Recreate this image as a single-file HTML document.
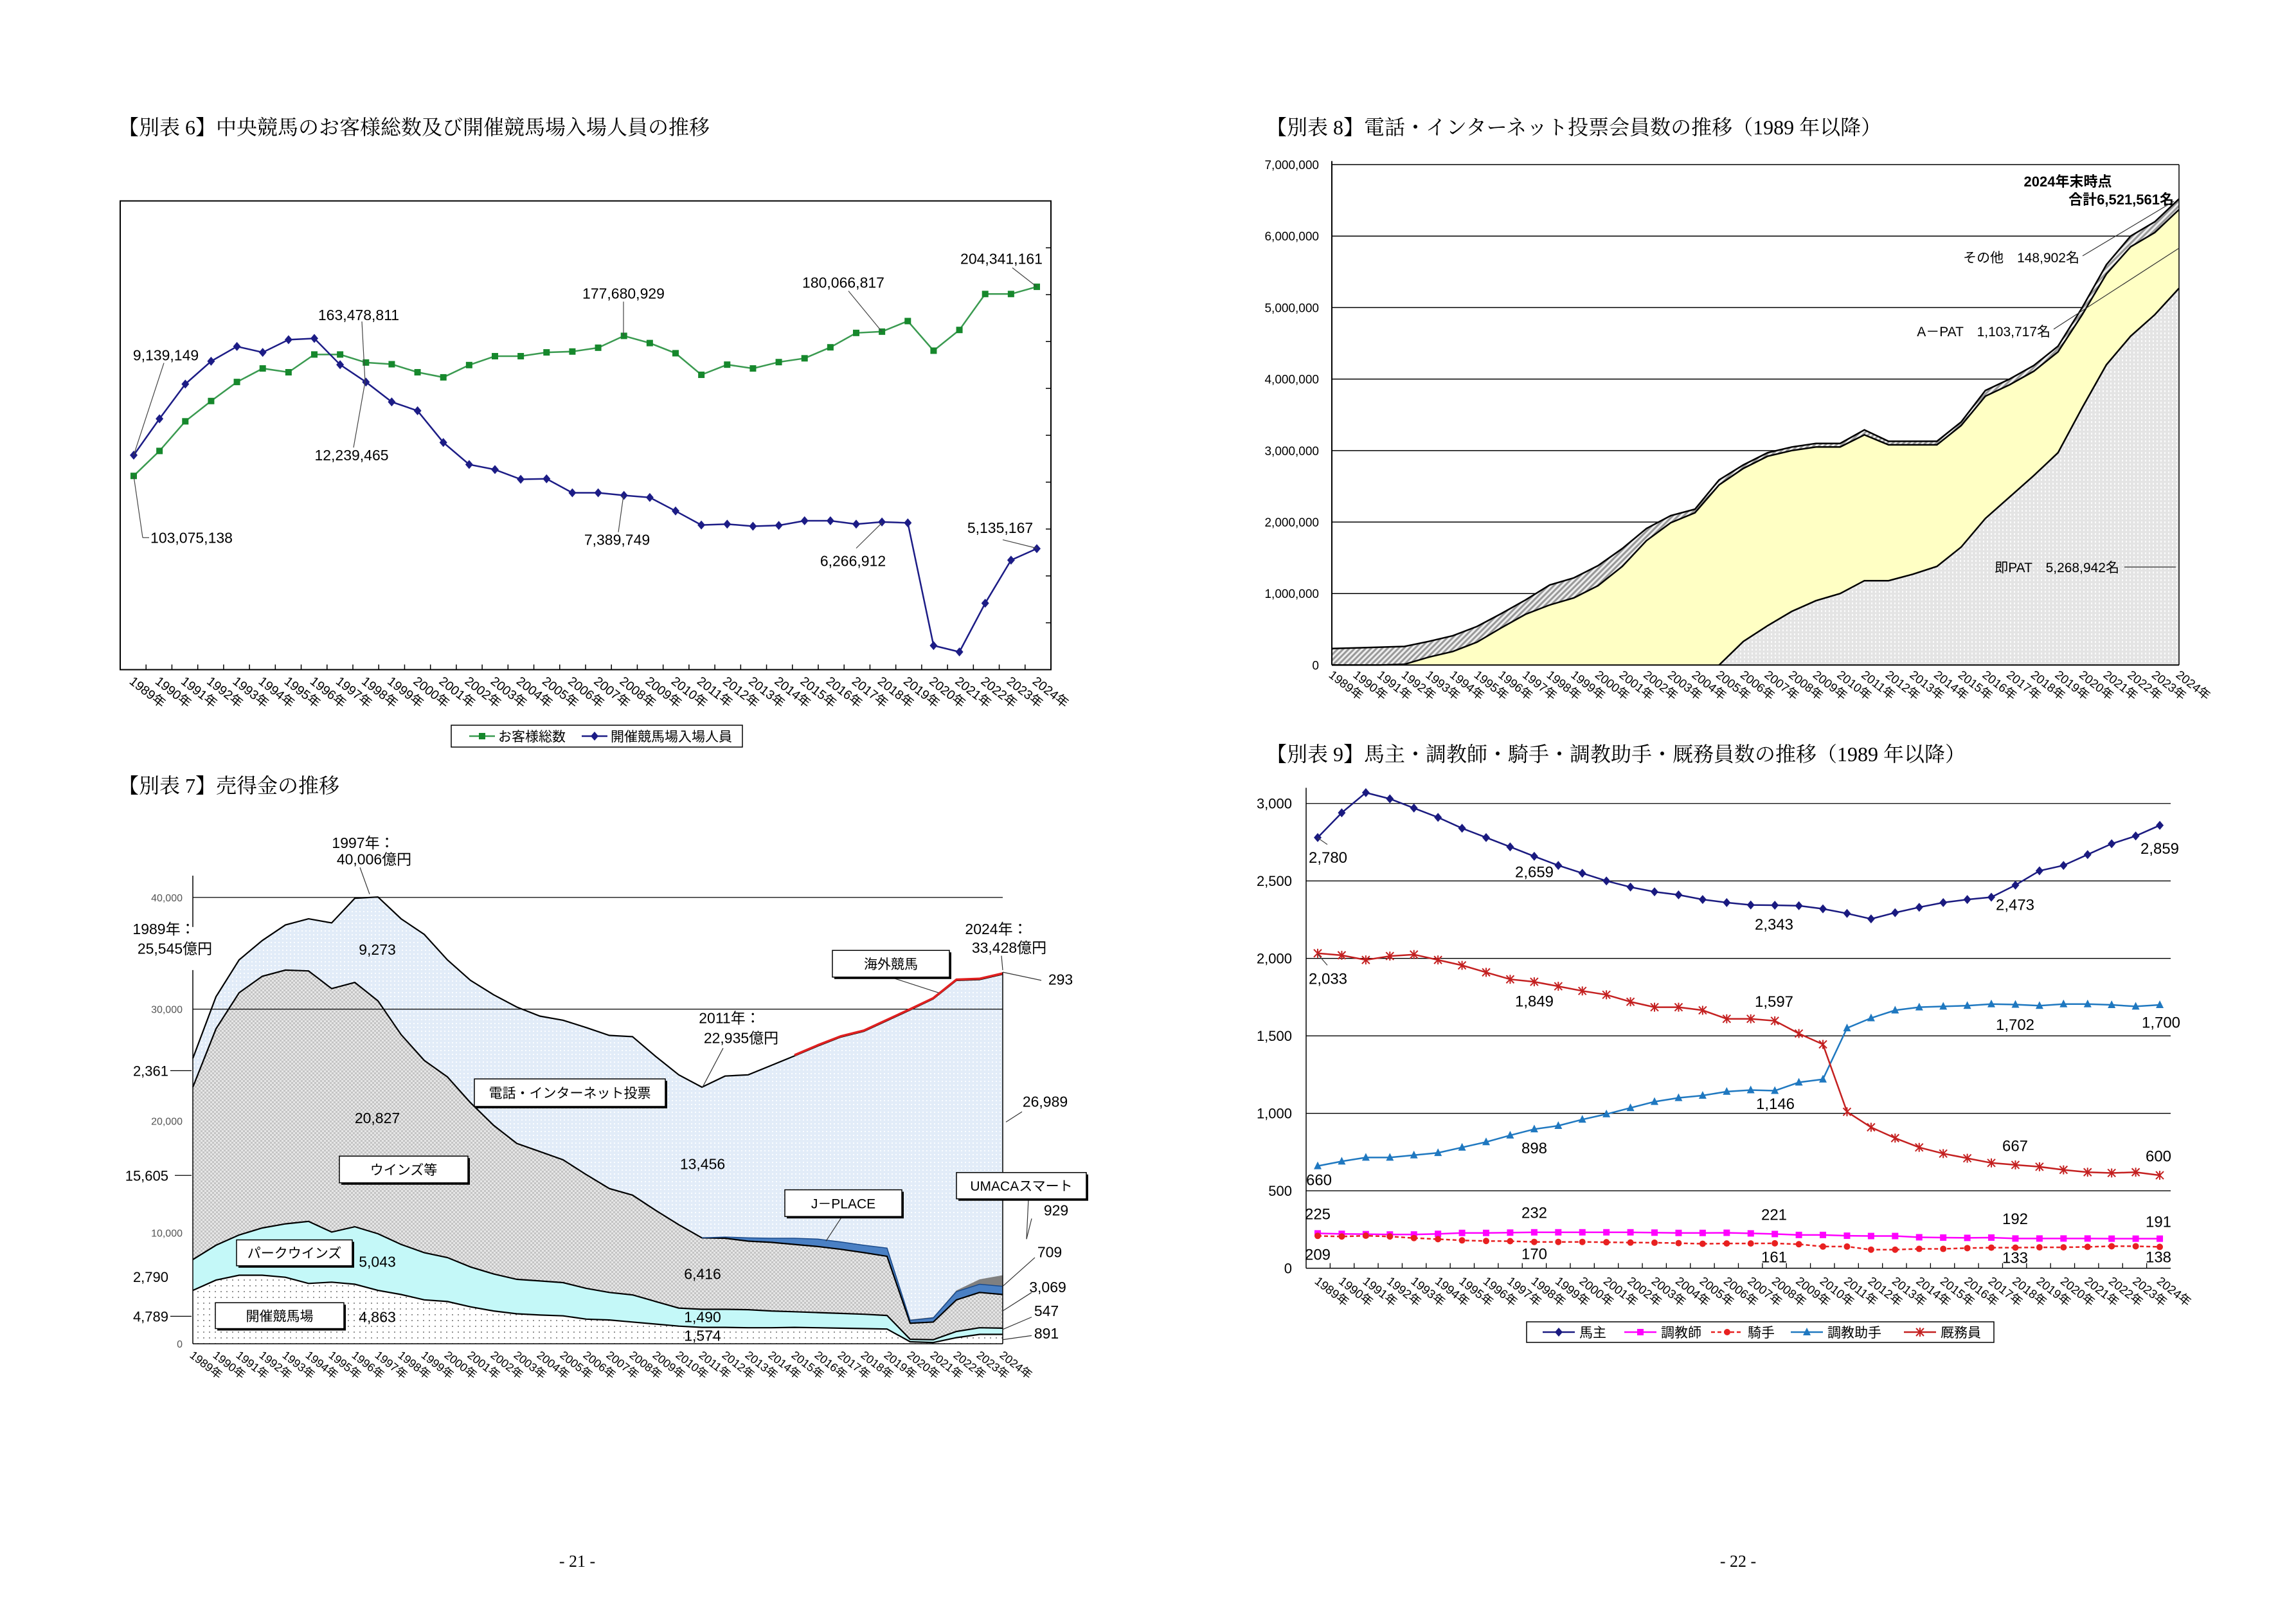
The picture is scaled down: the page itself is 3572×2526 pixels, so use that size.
<!DOCTYPE html>
<html><head><meta charset="utf-8">
<style>
html,body{margin:0;padding:0;background:#fff;}
svg{display:block;}
text{font-family:"Liberation Sans Narrow","Liberation Sans","Noto Sans CJK JP",sans-serif;}
.t{font-family:"Liberation Serif","Noto Serif CJK SC",serif;font-size:32px;}
</style></head>
<body>
<svg id="s" xmlns="http://www.w3.org/2000/svg" width="3572" height="2526" viewBox="0 0 3572 2526">
<defs>
<pattern id="dots" width="9" height="9" patternUnits="userSpaceOnUse"><rect width="9" height="9" fill="#fff"/><circle cx="2" cy="2" r="0.9" fill="#444"/></pattern>
<pattern id="chk" width="6" height="6" patternUnits="userSpaceOnUse"><rect width="6" height="6" fill="#e6e6e6"/><rect width="3" height="3" fill="#c4c4c4"/><rect x="3" y="3" width="3" height="3" fill="#c4c4c4"/></pattern>
<pattern id="lb" width="6" height="6" patternUnits="userSpaceOnUse"><rect width="6" height="6" fill="#e2ecf8"/><rect x="1" y="1" width="2" height="2" fill="#fbfdff"/></pattern>
<pattern id="gr8" width="6" height="6" patternUnits="userSpaceOnUse"><rect width="6" height="6" fill="#e4e4e4"/><rect x="1" y="1" width="2" height="3" fill="#fafafa"/></pattern>
<pattern id="hat" width="6" height="6" patternUnits="userSpaceOnUse" patternTransform="rotate(45)"><rect width="6" height="6" fill="#eee"/><rect width="3" height="6" fill="#999"/></pattern>
</defs>
<g id="g"></g>
</svg>
<script>
var out=[];
function P(a){return a.map(function(p){return p[0].toFixed(1)+','+p[1].toFixed(1)}).join(' ');}
function line(x1,y1,x2,y2,c,w,extra){out.push('<line x1="'+x1+'" y1="'+y1+'" x2="'+x2+'" y2="'+y2+'" stroke="'+(c||'#000')+'" stroke-width="'+(w||1.5)+'" '+(extra||'')+'/>');}
function pl(pts,c,w,extra){out.push('<polyline points="'+P(pts)+'" fill="none" stroke="'+c+'" stroke-width="'+w+'" '+(extra||'')+'/>');}
function pg(pts,fill,stroke,w){out.push('<polygon points="'+P(pts)+'" fill="'+fill+'" stroke="'+(stroke||'none')+'" stroke-width="'+(w||0)+'"/>');}
function tx(x,y,s,fs,anchor,extra){out.push('<text x="'+x+'" y="'+y+'" font-size="'+fs+'" text-anchor="'+(anchor||'middle')+'" '+(extra||'')+'>'+s+'</text>');}
function rect(x,y,w,h,fill,stroke,sw){out.push('<rect x="'+x+'" y="'+y+'" width="'+w+'" height="'+h+'" fill="'+fill+'" stroke="'+(stroke||'none')+'" stroke-width="'+(sw||0)+'"/>');}
function mk(type,x,y,c){
 if(type=='sq') rect(x-5,y-5,10,10,c);
 else if(type=='di') pg([[x,y-7],[x+6,y],[x,y+7],[x-6,y]],c);
 else if(type=='ci') out.push('<circle cx="'+x+'" cy="'+y+'" r="5" fill="'+c+'"/>');
 else if(type=='tr') pg([[x,y-7],[x+6,y+5],[x-6,y+5]],c);
 else if(type=='st'){line(x-6,y-6,x+6,y+6,c,2);line(x-6,y+6,x+6,y-6,c,2);line(x,y-7,x,y+7,c,2);}
}
function xlabels(xs,y,fs,dx){for(var i=0;i<36;i++){var x=xs(i)+(dx||0);out.push('<text x="'+x.toFixed(1)+'" y="'+y+'" font-size="'+fs+'" transform="rotate(38 '+x.toFixed(1)+' '+y+')">'+(1989+i)+'年</text>');}}

out.push('<text class="t" x="184" y="209">【別表 6】中央競馬のお客様総数及び開催競馬場入場人員の推移</text>');
out.push('<text class="t" x="184" y="1233">【別表 7】売得金の推移</text>');
out.push('<text class="t" x="1970" y="209">【別表 8】電話・インターネット投票会員数の推移（1989 年以降）</text>');
out.push('<text class="t" x="1970" y="1184">【別表 9】馬主・調教師・騎手・調教助手・厩務員数の推移（1989 年以降）</text>');
out.push('<text class="t" x="898" y="2437" text-anchor="middle" style="font-size:26px">- 21 -</text>');
out.push('<text class="t" x="2704" y="2437" text-anchor="middle" style="font-size:26px">- 22 -</text>');

(function(){
 var X=function(i){return 150+58+i*(1405/35);}, Y=function(z){return 150+z*0.658;};
 var gr=[897,838,768,720,675,643,652,610,610,629,633,652,664,635,614,614,605,603,594,566,583,607,658,634,643,628,619,593,559,556,531,601,552,467,467,450];
 var bl=[848,762,680,626,591,605,575,572,634,675,722,743,818,870,882,905,904,937,937,943,948,980,1013,1011,1016,1014,1003,1003,1011,1006,1008,1298,1313,1198,1096,1069];
 var top=Y(247),bot=Y(1355);
 rect(187,top,1448,bot-top,'#fff','#000',2);
 for(var k=1;k<10;k++){var y=top+(bot-top)*k/10;line(1627,y,1635,y,'#000',1.5);}
 for(var k=1;k<36;k++){var x=187+1448*k/36;line(x,bot,x,bot-8,'#000',1.5);}
 pl(gr.map(function(v,i){return [X(i),Y(v)]}),'#3a9a50',2.5);
 pl(bl.map(function(v,i){return [X(i),Y(v)]}),'#1c1c86',2.5);
 gr.forEach(function(v,i){mk('sq',X(i),Y(v),'#16882c');});
 bl.forEach(function(v,i){mk('di',X(i),Y(v),'#1c1c86');});
 var L=[[108,612,'9,139,149'],[408,517,'163,478,811'],[820,466,'177,680,929'],[1162,440,'180,066,817'],[1408,384,'204,341,161'],[148,1043,'103,075,138'],[397,848,'12,239,465'],[810,1048,'7,389,749'],[1177,1098,'6,266,912'],[1406,1020,'5,135,167']];
 L.forEach(function(l){tx(150+l[0],Y(l[1])+8,l[2],23);});
 var LL=[[58,848,105,630],[58,897,72,1043],[72,1043,82,1043],[418,675,400,830],[418,675,413,532],[820,566,820,485],[1222,556,1170,460],[1463,450,1425,405],[1222,1008,1182,1068],[1463,1068,1410,1048],[820,943,812,1030]];
 LL.forEach(function(l){line(150+l[0],Y(l[1]),150+l[2],Y(l[3]),'#444',1.2);});
 xlabels(X,1062,20,-8);
 rect(702,1128,453,34,'#fff','#000',1.5);
 line(730,1145,770,1145,'#3a9a50',2.5);mk('sq',750,1145,'#16882c');tx(775,1153,'お客様総数',21,'start');
 line(905,1145,945,1145,'#1c1c86',2.5);mk('di',925,1145,'#1c1c86');tx(950,1153,'開催競馬場入場人員',21,'start');
})();

(function(){
 var X=function(i){return 1950+122+i*(1318/35);}, Y=function(v){return 150+(1443-v*181.43)*0.6129;};
 var tot=[0.23,0.24,0.25,0.26,0.33,0.41,0.54,0.72,0.91,1.12,1.22,1.39,1.63,1.91,2.09,2.18,2.59,2.80,2.97,3.05,3.10,3.10,3.29,3.13,3.13,3.13,3.40,3.84,4.00,4.19,4.46,5.00,5.60,6.00,6.20,6.52];
 var oth=[0.23,0.24,0.25,0.25,0.22,0.22,0.22,0.2,0.2,0.28,0.28,0.28,0.25,0.17,0.1,0.05,0.07,0.05,0.05,0.05,0.05,0.05,0.07,0.05,0.05,0.05,0.05,0.08,0.08,0.08,0.08,0.1,0.13,0.15,0.15,0.149];
 var sok=[0,0,0,0,0,0,0,0,0,0,0,0,0,0,0,0,0,0.33,0.55,0.75,0.9,1.0,1.18,1.18,1.27,1.38,1.65,2.05,2.35,2.65,2.97,3.6,4.2,4.6,4.9,5.27];
 var yel=tot.map(function(v,i){return Math.max(v-oth[i],0);});
 var x0=X(0),x1=X(35),y0=Y(0);
 for(var m=1;m<=7;m++){line(x0,Y(m),x1,Y(m),'#000',1.5);}
 for(var m=0;m<=7;m++){tx(2052,Y(m)+7,m==0?'0':(m+',000,000'),19,'end');}
 function area(a,b,fill){var pts=a.map(function(v,i){return [X(i),Y(v)]});var bb=b.map(function(v,i){return [X(i),Y(v)]}).reverse();pg(pts.concat(bb),fill);}
 var zero=tot.map(function(){return 0});
 area(tot,yel,'url(#hat)');
 area(yel,sok,'#ffffc4');
 area(sok,zero,'url(#gr8)');
 pl(tot.map(function(v,i){return [X(i),Y(v)]}),'#000',2.5);
 pl(yel.map(function(v,i){return [X(i),Y(v)]}),'#000',2.5);
 var sp=[];for(var i=16;i<36;i++)sp.push([X(i),Y(sok[i])]);pl(sp,'#000',2.5);
 line(x0,Y(7.05),x0,y0,'#000',2);line(x0,y0,x1,y0,'#000',2);line(x1,Y(7),x1,y0,'#000',1.5);
 tx(3217,290,'2024年末時点',22,'middle','font-weight="bold"');
 tx(3382,318,'合計6,521,561名',22,'end','font-weight="bold"');
 tx(3235,408,'その他　148,902名',21,'end');
 line(3240,398,3382,313,'#333',1.2);
 tx(3190,523,'A－PAT　1,103,717名',21,'end');
 line(3195,512,3390,386,'#333',1.2);
 tx(3297,890,'即PAT　5,268,942名',21,'end');
 line(3305,882,3385,882,'#333',1.2);
 xlabels(X,1052,19,-6);
})();

(function(){
 var X=function(i){return 300+i*36;}, Y=function(z){return 1180+z*0.6387;};
 var kai=[1295,1270,1258,1258,1263,1278,1275,1280,1295,1305,1318,1322,1335,1345,1352,1355,1357,1365,1367,1372,1377,1382,1385,1385,1386,1386,1385,1386,1387,1388,1389,1420,1422,1410,1402,1402];
 var park=[1220,1185,1160,1143,1133,1127,1153,1140,1157,1183,1203,1215,1238,1255,1268,1272,1276,1290,1300,1306,1322,1338,1341,1341,1342,1345,1347,1349,1351,1353,1356,1414,1415,1395,1386,1387];
 var winz=[800,658,570,530,515,517,560,545,590,672,735,775,838,893,937,957,977,1013,1047,1063,1100,1135,1167,1168,1175,1178,1183,1188,1195,1203,1212,1375,1372,1318,1300,1305];
 var jp=winz.slice();var jpv={23:1165,24:1167,25:1168,26:1168,27:1170,28:1177,29:1185,30:1192,31:1368,32:1362,33:1298,34:1280,35:1285};for(var k in jpv)jp[k]=jpv[k];
 var uma=jp.slice();uma[31]=1366;uma[32]=1360;uma[33]=1295;uma[34]=1268;uma[35]=1258;
 var tel=[730,580,490,443,405,390,400,340,337,390,428,490,540,575,605,627,637,655,674,677,725,770,800,773,770,747,724,700,678,664,638,612,585,540,538,525];
 var base=tel.map(function(){return 1425});
 function area(a,b,fill){var pts=a.map(function(v,i){return [X(i),Y(v)]});var bb=b.map(function(v,i){return [X(i),Y(v)]}).reverse();pg(pts.concat(bb),fill);}
 area(tel,uma,'url(#lb)');area(uma,jp,'#808080');area(jp,winz,'#4a80c4');area(winz,park,'url(#chk)');area(park,kai,'#c4f8f8');area(kai,base,'url(#dots)');
 line(300,Y(338),1560,Y(338),'#000',1.3);line(300,Y(610),1560,Y(610),'#000',1.3);
 [kai,park,winz,tel].forEach(function(a){pl(a.map(function(v,i){return [X(i),Y(v)]}),'#000',2.2);});
 var jl=[];for(var i=22;i<36;i++)jl.push([X(i),Y(jp[i])]);pl(jl,'#1a4a8a',1.5);
 var rl=[];for(var i=26;i<36;i++)rl.push([X(i),Y(tel[i]-2)]);pl(rl,'#e02020',3.5);
 line(300,Y(285),300,Y(410),'#000',1.5);line(300,Y(515),300,Y(1425),'#000',1.5);line(300,Y(1425),1560,Y(1425),'#000',1.5);line(1560,Y(520),1560,Y(1425),'#000',1.5);
 [[338,'40,000'],[610,'30,000'],[882,'20,000'],[1155,'10,000'],[1425,'0']].forEach(function(t){tx(284,Y(t[0])+6,t[1],16,'end','fill="#555"');});
 [[760,'2,361',115],[1015,'15,605',122],[1262,'2,790',0],[1358,'4,789',115]].forEach(function(t){tx(262,Y(t[0])+8,t[1],22,'end');if(t[2])line(150+t[2],Y(t[0]),298,Y(t[0]),'#000',1.3);});
 var L=[[415,205,'1997年：'],[432,245,'40,006億円'],[105,415,'1989年：'],[122,463,'25,545億円'],[1400,415,'2024年：'],[1420,460,'33,428億円'],[437,465,'9,273'],[437,875,'20,827'],[943,987,'13,456'],[943,1255,'6,416'],[437,1225,'5,043'],[437,1360,'4,863'],[943,1360,'1,490'],[943,1405,'1,574'],[985,632,'2011年：'],[1003,680,'22,935億円'],[1500,538,'293'],[1476,835,'26,989'],[1493,1100,'929'],[1483,1202,'709'],[1480,1287,'3,069'],[1478,1345,'547'],[1478,1400,'891']];
 L.forEach(function(l){tx(150+l[0],Y(l[1])+8,l[2],23);});
 var LL=[[425,330,410,265],[1410,515,1408,480],[943,800,975,705],[1410,520,1470,540],[1415,885,1440,860],[1447,1170,1455,1120],[1410,1285,1460,1215],[1410,1345,1455,1300],[1410,1390,1455,1360],[1410,1415,1455,1405],[1235,532,1310,570],[1160,1115,1135,1175],[1450,1072,1447,1170]];
 LL.forEach(function(l){line(150+l[0],Y(l[1]),150+l[2],Y(l[3]),'#333',1.2);});
 [[1145,467,1327,532,'海外競馬'],[588,780,885,847,'電話・インターネット投票'],[378,968,578,1033,'ウインズ等'],[1071,1050,1253,1115,'J－PLACE'],[1338,1008,1540,1072,'UMACAスマート'],[218,1172,398,1235,'パークウインズ'],[185,1325,385,1388,'開催競馬場']].forEach(function(b){
  var x=150+b[0],y=Y(b[1]),w=b[2]-b[0],h=Y(b[3])-y;
  rect(x+3,y+3,w,h,'#000');rect(x,y,w,h,'#fff','#000',1.5);tx(x+w/2,y+h/2+8,b[4],21);
 });
 xlabels(X,2110,18,-6);
})();

(function(){
 var X=function(i){return 2050+i*37.43;}, Y=function(v){return 1120+(1335-v*0.3773)*0.6387;};
 var ba=[2780,2940,3070,3030,2970,2910,2840,2780,2720,2659,2600,2550,2500,2460,2430,2410,2380,2360,2345,2343,2340,2320,2290,2255,2295,2330,2360,2380,2395,2473,2565,2600,2670,2740,2790,2859];
 var ky=[2033,2020,1990,2015,2025,1990,1955,1910,1865,1849,1820,1790,1765,1720,1685,1685,1665,1610,1610,1597,1515,1445,1010,910,840,780,740,710,680,667,655,635,620,615,620,600];
 var jo=[660,690,715,715,730,745,780,815,858,898,920,960,995,1035,1075,1100,1115,1140,1150,1146,1200,1220,1550,1615,1665,1685,1690,1695,1705,1702,1695,1705,1705,1700,1690,1700];
 var ch=[225,222,220,218,218,222,228,228,230,232,232,232,232,232,230,228,228,229,225,221,215,215,210,208,208,200,198,196,198,192,192,192,192,191,191,191];
 var ki=[209,205,210,205,195,188,180,176,175,170,170,170,168,166,165,162,158,160,160,161,155,140,140,120,120,125,125,130,133,133,135,135,138,142,142,138];
 var xl=2032,xr=3377;
 for(var v=500;v<=3000;v+=500)line(xl,Y(v),xr,Y(v),'#000',1.3);
 line(xl,1120+165*0.6387,xl,Y(0),'#000',1.5);line(xl,Y(0),xr,Y(0),'#000',1.5);
 for(var k=1;k<36;k++){var x=xl+(xr-xl)*k/36;line(x,Y(0),x,Y(0)-8,'#000',1.3);}
 for(var v=0;v<=3000;v+=500)tx(2010,Y(v)+8,v==0?'0':(v>=1000?(Math.floor(v/1000)+','+String(v%1000).padStart(3,'0')):v),22,'end');
 function ser(a,c,m,extra){pl(a.map(function(v,i){return [X(i),Y(v)]}),c,2.5,extra);a.forEach(function(v,i){mk(m,X(i),Y(v),c);});}
 ser(ch,'#ff00ff','sq');ser(ki,'#e82020','ci','stroke-dasharray="6,4"');ser(jo,'#1f78c0','tr');ser(ky,'#c42020','st');ser(ba,'#1a1a80','di');
 var L=[[116,335,'2,780'],[437,370,'2,659'],[810,498,'2,343'],[1185,450,'2,473'],[1410,313,'2,859'],[116,630,'2,033'],[437,685,'1,849'],[810,686,'1,597'],[1185,742,'1,702'],[1412,737,'1,700'],[812,935,'1,146'],[437,1043,'898'],[1185,1037,'667'],[1408,1062,'600'],[102,1120,'660'],[100,1203,'225'],[437,1200,'232'],[810,1205,'221'],[1185,1215,'192'],[1408,1222,'191'],[100,1302,'209'],[437,1300,'170'],[810,1308,'161'],[1185,1310,'133'],[1408,1308,'138']];
 L.forEach(function(l){tx(1950+l[0],1120+l[1]*0.6387+8,l[2],24);});
 line(2050,1120+287*0.6387,2065,1120+303*0.6387,'#444',1.2);line(2050,1120+570*0.6387,2065,1120+597*0.6387,'#444',1.2);
 xlabels(X,1995,19,-6);
 rect(2375,2056,727,32,'#fff','#000',1.5);
 var items=[['馬主','#1a1a80','di',''],['調教師','#ff00ff','sq',''],['騎手','#e82020','ci','stroke-dasharray="6,4"'],['調教助手','#1f78c0','tr',''],['厩務員','#c42020','st','']];
 var lx=[2400,2527,2662,2786,2962];
 items.forEach(function(it,k){var x=lx[k];line(x,2072,x+50,2072,it[1],2.5,it[3]);mk(it[2],x+25,2072,it[1]);tx(x+57,2080,it[0],21,'start');});
})();

document.getElementById('g').innerHTML=out.join('');
</script>
</body></html>
